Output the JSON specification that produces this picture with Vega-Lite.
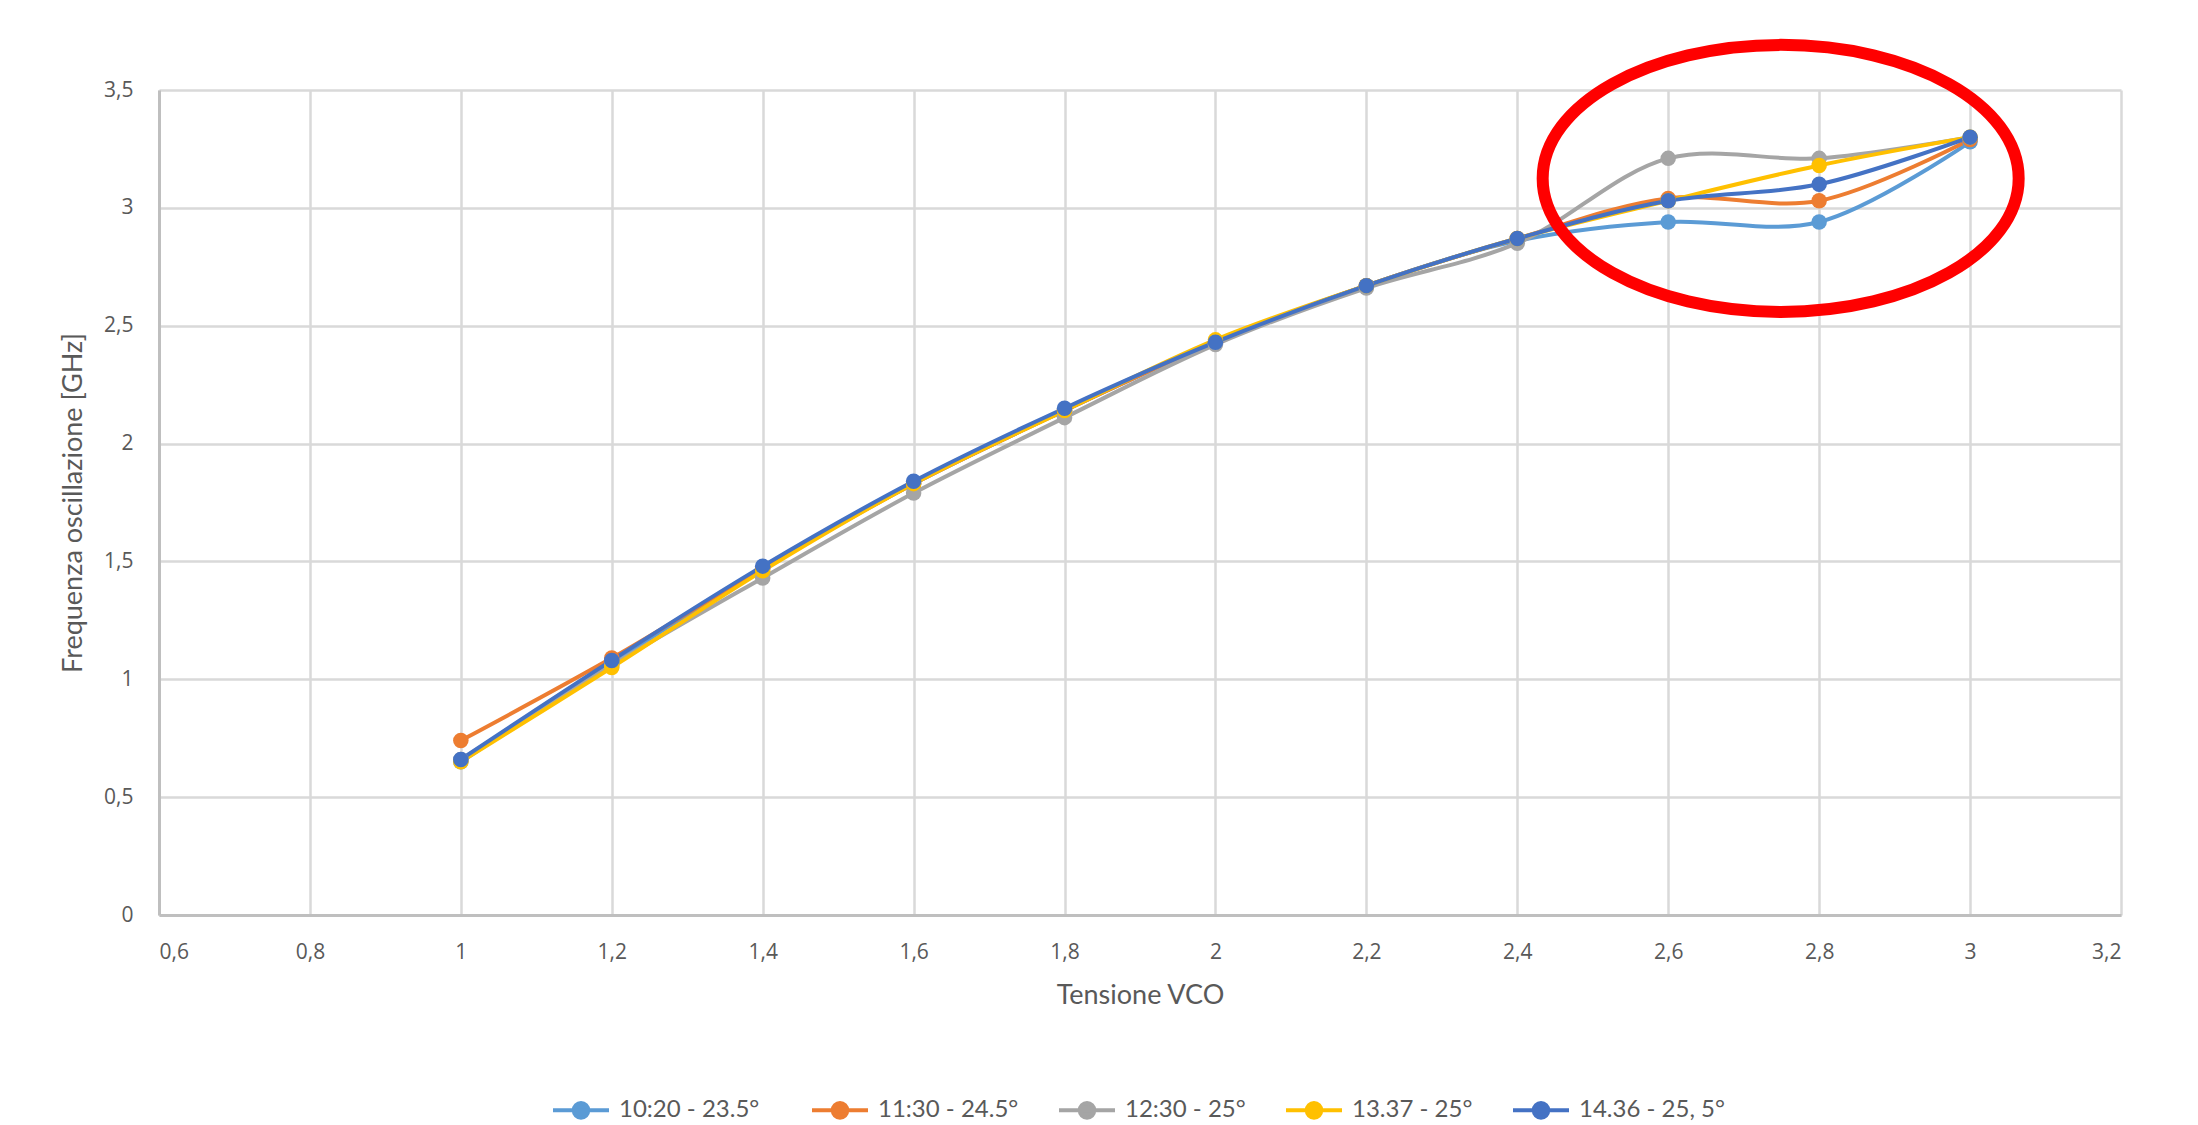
{
  "$schema": "https://vega.github.io/schema/vega-lite/v6.json",
  "width": 1962,
  "height": 825,
  "autosize": {"type": "none"},
  "padding": {"left": 159, "top": 90, "right": 77, "bottom": 210},
  "background": "white",
  "config": {
    "locale": {
      "number": {"decimal": ",", "thousands": ".", "grouping": [3], "currency": ["", " €"]}
    },
    "view": {"stroke": null},
    "axis": {
      "ticks": false,
      "grid": true,
      "gridColor": "#d9d9d9",
      "gridWidth": 2.5,
      "domainColor": "#bfbfbf",
      "domainWidth": 3,
      "labelColor": "#595959",
      "labelFont": "Open Sans",
      "labelFontSize": 21,
      "titleColor": "#595959",
      "titleFont": "Lato",
      "titleFontSize": 27,
      "titleFontWeight": "normal"
    }
  },
  "datasets": {
    "misure": [
      {"serie": "10:20  -  23.5°", "tensione": 1.0, "frequenza": 0.65},
      {"serie": "10:20  -  23.5°", "tensione": 1.2, "frequenza": 1.07},
      {"serie": "10:20  -  23.5°", "tensione": 1.4, "frequenza": 1.47},
      {"serie": "10:20  -  23.5°", "tensione": 1.6, "frequenza": 1.83},
      {"serie": "10:20  -  23.5°", "tensione": 1.8, "frequenza": 2.14},
      {"serie": "10:20  -  23.5°", "tensione": 2.0, "frequenza": 2.43},
      {"serie": "10:20  -  23.5°", "tensione": 2.2, "frequenza": 2.67},
      {"serie": "10:20  -  23.5°", "tensione": 2.4, "frequenza": 2.86},
      {"serie": "10:20  -  23.5°", "tensione": 2.6, "frequenza": 2.94},
      {"serie": "10:20  -  23.5°", "tensione": 2.8, "frequenza": 2.94},
      {"serie": "10:20  -  23.5°", "tensione": 3.0, "frequenza": 3.28},
      {"serie": "11:30 - 24.5°", "tensione": 1.0, "frequenza": 0.74},
      {"serie": "11:30 - 24.5°", "tensione": 1.2, "frequenza": 1.09},
      {"serie": "11:30 - 24.5°", "tensione": 1.4, "frequenza": 1.47},
      {"serie": "11:30 - 24.5°", "tensione": 1.6, "frequenza": 1.83},
      {"serie": "11:30 - 24.5°", "tensione": 1.8, "frequenza": 2.14},
      {"serie": "11:30 - 24.5°", "tensione": 2.0, "frequenza": 2.43},
      {"serie": "11:30 - 24.5°", "tensione": 2.2, "frequenza": 2.67},
      {"serie": "11:30 - 24.5°", "tensione": 2.4, "frequenza": 2.87},
      {"serie": "11:30 - 24.5°", "tensione": 2.6, "frequenza": 3.04},
      {"serie": "11:30 - 24.5°", "tensione": 2.8, "frequenza": 3.03},
      {"serie": "11:30 - 24.5°", "tensione": 3.0, "frequenza": 3.29},
      {"serie": "12:30 - 25°", "tensione": 1.0, "frequenza": 0.66},
      {"serie": "12:30 - 25°", "tensione": 1.2, "frequenza": 1.06},
      {"serie": "12:30 - 25°", "tensione": 1.4, "frequenza": 1.43},
      {"serie": "12:30 - 25°", "tensione": 1.6, "frequenza": 1.79},
      {"serie": "12:30 - 25°", "tensione": 1.8, "frequenza": 2.11},
      {"serie": "12:30 - 25°", "tensione": 2.0, "frequenza": 2.42},
      {"serie": "12:30 - 25°", "tensione": 2.2, "frequenza": 2.66},
      {"serie": "12:30 - 25°", "tensione": 2.4, "frequenza": 2.85},
      {"serie": "12:30 - 25°", "tensione": 2.6, "frequenza": 3.21},
      {"serie": "12:30 - 25°", "tensione": 2.8, "frequenza": 3.21},
      {"serie": "12:30 - 25°", "tensione": 3.0, "frequenza": 3.30},
      {"serie": "13.37 - 25°", "tensione": 1.0, "frequenza": 0.65},
      {"serie": "13.37 - 25°", "tensione": 1.2, "frequenza": 1.05},
      {"serie": "13.37 - 25°", "tensione": 1.4, "frequenza": 1.46},
      {"serie": "13.37 - 25°", "tensione": 1.6, "frequenza": 1.83},
      {"serie": "13.37 - 25°", "tensione": 1.8, "frequenza": 2.14},
      {"serie": "13.37 - 25°", "tensione": 2.0, "frequenza": 2.44},
      {"serie": "13.37 - 25°", "tensione": 2.2, "frequenza": 2.67},
      {"serie": "13.37 - 25°", "tensione": 2.4, "frequenza": 2.87},
      {"serie": "13.37 - 25°", "tensione": 2.6, "frequenza": 3.03},
      {"serie": "13.37 - 25°", "tensione": 2.8, "frequenza": 3.18},
      {"serie": "13.37 - 25°", "tensione": 3.0, "frequenza": 3.30},
      {"serie": "14.36 - 25, 5°", "tensione": 1.0, "frequenza": 0.66},
      {"serie": "14.36 - 25, 5°", "tensione": 1.2, "frequenza": 1.08},
      {"serie": "14.36 - 25, 5°", "tensione": 1.4, "frequenza": 1.48},
      {"serie": "14.36 - 25, 5°", "tensione": 1.6, "frequenza": 1.84},
      {"serie": "14.36 - 25, 5°", "tensione": 1.8, "frequenza": 2.15},
      {"serie": "14.36 - 25, 5°", "tensione": 2.0, "frequenza": 2.43},
      {"serie": "14.36 - 25, 5°", "tensione": 2.2, "frequenza": 2.67},
      {"serie": "14.36 - 25, 5°", "tensione": 2.4, "frequenza": 2.87},
      {"serie": "14.36 - 25, 5°", "tensione": 2.6, "frequenza": 3.03},
      {"serie": "14.36 - 25, 5°", "tensione": 2.8, "frequenza": 3.10},
      {"serie": "14.36 - 25, 5°", "tensione": 3.0, "frequenza": 3.30}
    ],
    "evidenza": [
      {"tensione": 2.749, "frequenza": 3.125}
    ]
  },
  "encoding": {
    "x": {
      "field": "tensione",
      "type": "quantitative",
      "scale": {"domain": [0.6, 3.2], "nice": false, "zero": false},
      "axis": {
        "values": [0.6, 0.8, 1.0, 1.2, 1.4, 1.6, 1.8, 2.0, 2.2, 2.4, 2.6, 2.8, 3.0, 3.2],
        "format": ".1~f",
        "labelPadding": 26,
        "title": "Tensione VCO",
        "titlePadding": 20
      }
    },
    "y": {
      "field": "frequenza",
      "type": "quantitative",
      "scale": {"domain": [0, 3.5], "nice": false},
      "axis": {
        "values": [0, 0.5, 1, 1.5, 2, 2.5, 3, 3.5],
        "format": ".1~f",
        "labelPadding": 26,
        "title": "Frequenza oscillazione [GHz]",
        "titlePadding": 16
      }
    }
  },
  "layer": [
    {
      "data": {"name": "misure"},
      "mark": {"type": "line", "interpolate": "catmull-rom", "strokeWidth": 4},
      "encoding": {
        "color": {
          "field": "serie",
          "type": "nominal",
          "scale": {
            "domain": ["10:20  -  23.5°", "11:30 - 24.5°", "12:30 - 25°", "13.37 - 25°", "14.36 - 25, 5°"],
            "range": ["#5B9BD5", "#ED7D31", "#A5A5A5", "#FFC000", "#4472C4"]
          },
          "legend": {
            "title": null,
            "orient": "none",
            "legendX": 392,
            "legendY": 990,
            "direction": "horizontal",
            "columns": 5,
            "columnPadding": 32,
            "symbolType": "M-1,0L1,0M-0.26,0A0.26,0.26 0 1,0 0.26,0A0.26,0.26 0 1,0 -0.26,0Z",
            "symbolSize": 3136,
            "symbolStrokeWidth": 4,
            "labelFont": "Lato",
            "labelFontSize": 24,
            "labelLimit": 0,
            "labelColor": "#595959",
            "labelOffset": 8,
            "encode": {
              "symbols": {
                "update": {
                  "fill": {"scale": "color", "field": "value"},
                  "stroke": {"scale": "color", "field": "value"},
                  "opacity": {"value": 1}
                }
              }
            }
          }
        }
      }
    },
    {
      "data": {"name": "misure"},
      "mark": {"type": "point", "filled": true, "size": 240, "opacity": 1},
      "encoding": {
        "color": {"field": "serie", "type": "nominal", "legend": null}
      }
    },
    {
      "data": {"name": "evidenza"},
      "mark": {
        "type": "point",
        "shape": "M-1,0A1,0.561 0 1,0 1,0A1,0.561 0 1,0 -1,0Z",
        "filled": false,
        "stroke": "#FF0000",
        "strokeWidth": 12,
        "size": 226576,
        "opacity": 1
      }
    }
  ]
}
